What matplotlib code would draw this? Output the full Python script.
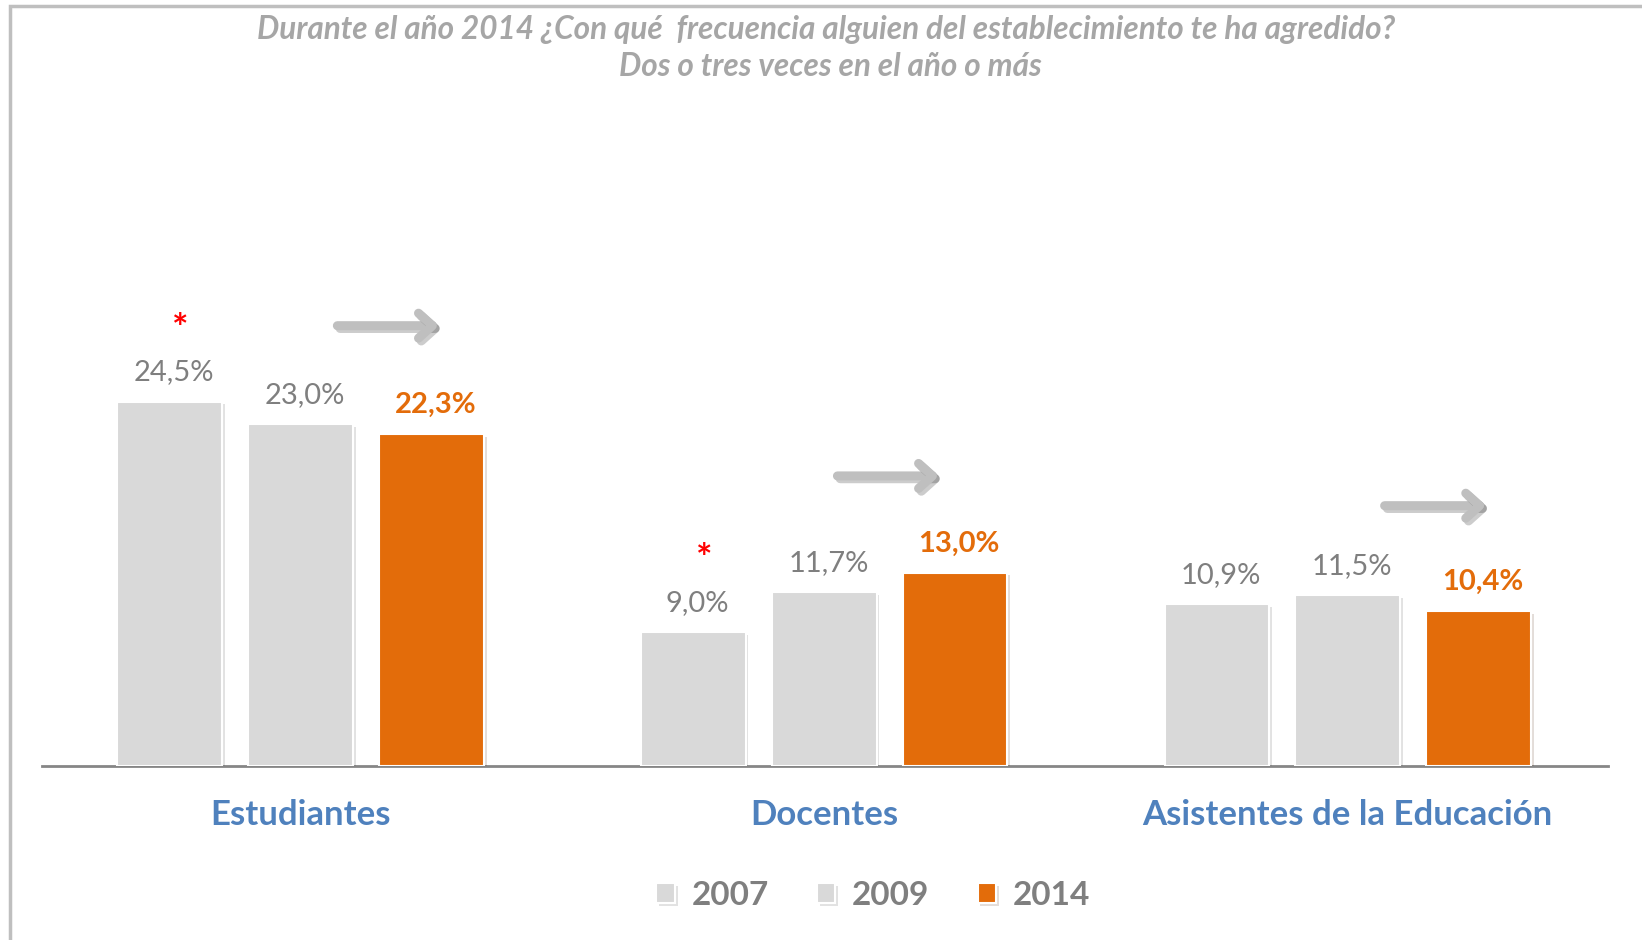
import numpy as np
import matplotlib
matplotlib.use("Agg")
import matplotlib.pyplot as plt
import matplotlib.patheffects as pe
from matplotlib.patches import Rectangle

plt.rcParams['font.family'] = ['Lato', 'DejaVu Sans']

# data
groups = ['Estudiantes', 'Docentes', 'Asistentes de la Educación']
years = ['2007', '2009', '2014']
v2007 = [24.5, 9.0, 10.9]
v2009 = [23.0, 11.7, 11.5]
v2014 = [22.3, 13.0, 10.4]
signif_2007 = [True, True, False]   # red asterisk over 2007 bar

# arrow placement relative to group centre / 2014 value
arrow_dx = [0.065, 0.02, 0.065]
arrow_dy = [7.3, 6.5, 7.1]

gray = '#D9D9D9'
orange = '#E36C0A'
txt_gray = '#7F7F7F'
blue = '#4F81BD'

fig = plt.figure(figsize=(16.42, 9.40), dpi=100)
ax = fig.add_axes([0.0255, 0.1851, 0.9535, 0.633])

x = np.arange(len(groups))
w = 0.2
step = 0.25
series = [v2007, v2009, v2014]
colors = [gray, gray, orange]
for i, (vals, c) in enumerate(zip(series, colors)):
    xs = x + (i - 1) * step
    ax.bar(xs, vals, w, color=c, edgecolor='white', linewidth=1.5,
           label=years[i], zorder=3,
           path_effects=[pe.SimplePatchShadow(offset=(2, -2), alpha=0.15), pe.Normal()])
    for xi, v in zip(xs, vals):
        lab = f'{v:.1f}%'.replace('.', ',')
        if i == 2:
            ax.annotate(lab, (xi, v), xytext=(3, 21), textcoords='offset points',
                        ha='center', va='center', fontsize=21, fontweight='bold', color=orange)
        else:
            ax.annotate(lab, (xi, v), xytext=(3, 21), textcoords='offset points',
                        ha='center', va='center', fontsize=21, color=txt_gray)

# asterisks
for xi, v, s in zip(x - step, v2007, signif_2007):
    if s:
        ax.annotate('*', (xi, v), xytext=(8, 52), textcoords='offset points',
                    ha='center', va='center', fontsize=28, fontweight='bold', color='red')

# trend arrows
for xi, v, dx, dy in zip(x, v2014, arrow_dx, arrow_dy):
    ax.annotate('', xy=(xi + dx + 0.205, v + dy), xytext=(xi + dx, v + dy),
                arrowprops=dict(arrowstyle='->, head_length=1.0, head_width=0.9',
                                color='#BFBFBF', lw=6.5,
                                path_effects=[pe.SimpleLineShadow(offset=(2, -2), alpha=0.2), pe.Normal()]))

ax.set_xlim(-0.494, 2.496)
ax.set_ylim(0, 40)
for s in ['top', 'right', 'left']:
    ax.spines[s].set_visible(False)
ax.spines['bottom'].set_color('#868686')
ax.spines['bottom'].set_linewidth(2)
ax.set_yticks([])
ax.set_xticks(x)
ax.set_xticklabels(groups, fontsize=25, fontweight='bold', color=blue)
ax.tick_params(axis='x', length=0, pad=24)

leg = ax.legend(loc='center', bbox_to_anchor=(0.531, -0.218), ncol=3, frameon=False,
                prop={'size': 24, 'weight': 'bold'}, handlelength=0.55, handleheight=0.55,
                columnspacing=1.45, handletextpad=0.5)
for t in leg.get_texts():
    t.set_color(txt_gray)

fig.text(0.503, 0.969, 'Durante el año 2014 ¿Con qué  frecuencia alguien del establecimiento te ha agredido?',
         ha='center', va='center', fontsize=22.7, fontweight='bold', style='italic', color='#A6A6A6')
fig.text(0.506, 0.929, 'Dos o tres veces en el año o más',
         ha='center', va='center', fontsize=22.7, fontweight='bold', style='italic', color='#A6A6A6')

# outer frame
fig.patches.append(Rectangle((10 / 1642, -0.05), 1.2, 1 - 5.5 / 940 + 0.05, transform=fig.transFigure,
                             fill=False, edgecolor='#BFBFBF', linewidth=2.5))

fig.savefig('out.png', dpi=100)
